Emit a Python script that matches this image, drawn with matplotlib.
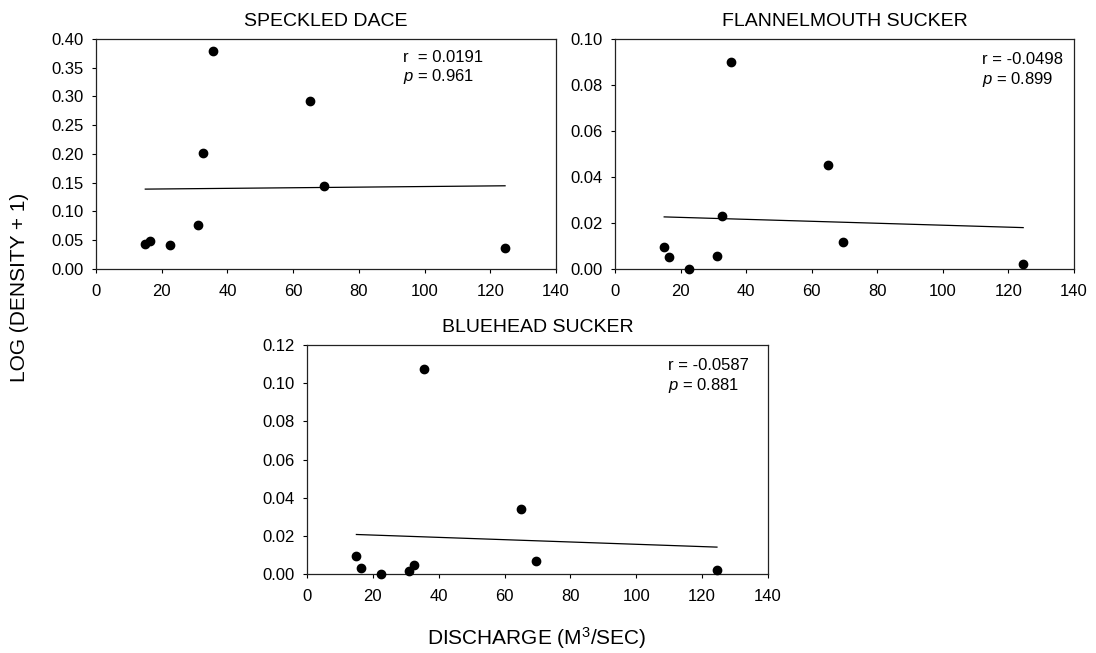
import numpy as np
import matplotlib
matplotlib.use("Agg")
import matplotlib.pyplot as plt

plt.rcParams['font.family'] = ['Liberation Sans', 'DejaVu Sans']
plt.rcParams['mathtext.fontset'] = 'custom'
plt.rcParams['mathtext.rm'] = 'Liberation Sans'
plt.rcParams['mathtext.it'] = 'Liberation Sans:italic'

# discharge (m3/sec), same sampling dates for every species
discharge = [15.0, 16.5, 22.5, 31.0, 32.5, 35.5, 65.0, 69.5, 124.5]

dace = [0.044, 0.048, 0.042, 0.076, 0.202, 0.379, 0.292, 0.145, 0.037]
flannelmouth = [0.0095, 0.005, 0.0, 0.0055, 0.023, 0.090, 0.045, 0.0118, 0.0023]
bluehead = [0.0095, 0.0033, 0.0, 0.0015, 0.0048, 0.1075, 0.034, 0.007, 0.002]

titles = ["SPECKLED DACE", "FLANNELMOUTH SUCKER", "BLUEHEAD SUCKER"]
r_vals = ["0.0191", "-0.0498", "-0.0587"]
p_vals = ["0.961", "0.899", "0.881"]
y_max = [0.40, 0.10, 0.12]
y_step = [0.05, 0.02, 0.02]

W, H = 1096, 653
fig = plt.figure(figsize=(W / 100, H / 100), dpi=100)

# axes boxes in pixels: left, top, right, bottom
boxes = [(96, 39, 556, 269), (615, 39, 1074, 269), (307, 345, 768, 574)]
r_pos = [(0.668, 0.92, "r  = "), (0.80, 0.91, "r = "), (0.783, 0.91, "r = ")]

for i, ys in enumerate([dace, flannelmouth, bluehead]):
    l, t, r, b = boxes[i]
    ax = fig.add_axes([l / W, 1 - b / H, (r - l) / W, (b - t) / H])
    x = np.array(discharge)
    y = np.array(ys)
    ax.plot(x, y, 'o', color='black', ms=6, clip_on=False, zorder=3)

    slope, icpt = np.polyfit(x, y, 1)
    xl = np.array([x.min(), x.max()])
    ax.plot(xl, slope * xl + icpt, color='black', lw=0.9)

    ax.set_xlim(0, 140)
    ax.set_ylim(0, y_max[i])
    ax.set_xticks(np.arange(0, 141, 20))
    ax.set_yticks(np.arange(0, y_max[i] + 1e-9, y_step[i]))
    ax.yaxis.set_major_formatter(matplotlib.ticker.FormatStrFormatter('%.2f'))
    ax.tick_params(direction='out', length=3, width=0.8, labelsize=12)
    ax.tick_params(axis='x', pad=8)
    ax.tick_params(axis='y', pad=6)
    for s in ax.spines.values():
        s.set_linewidth(0.9)
        s.set_color('#222222')
    ax.set_title(titles[i], fontsize=14, pad=9)

    fx, fy, lab = r_pos[i]
    ax.text(fx, fy, lab + r_vals[i], transform=ax.transAxes, fontsize=12,
            ha='left', va='center')
    ax.text(fx, fy - 0.085, "$p$ = " + p_vals[i], transform=ax.transAxes,
            fontsize=12, ha='left', va='center')

fig.text(20 / W, 1 - 287 / H, "LOG (DENSITY + 1)", rotation=90,
         ha='center', va='center', fontsize=15)
fig.text(537 / W, 1 - 638 / H, "DISCHARGE (M$^3$/SEC)",
         ha='center', va='center', fontsize=15)

fig.savefig("out.png", dpi=100)
